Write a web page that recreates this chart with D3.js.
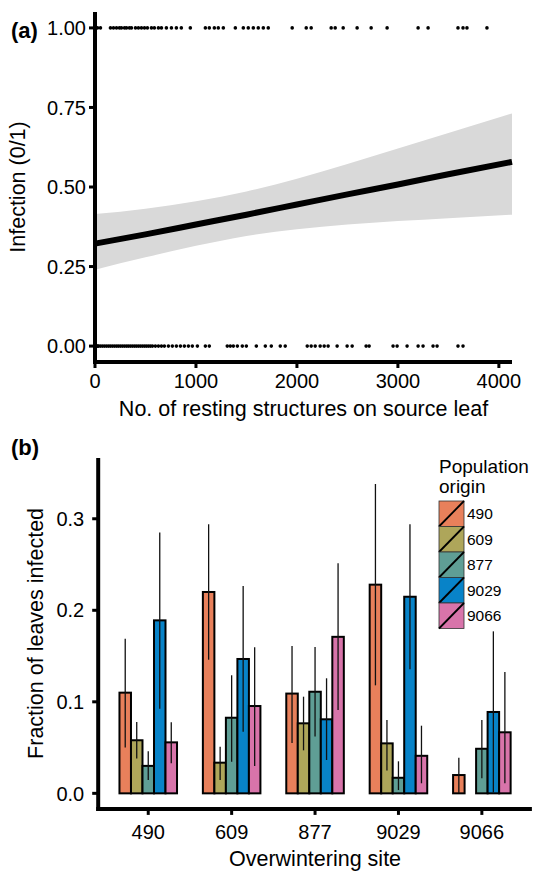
<!DOCTYPE html>
<html><head><meta charset="utf-8">
<script src="https://cdn.jsdelivr.net/npm/d3@7"></script>
<style>
body{margin:0;background:#fff}
svg{display:block}
text{font-family:"Liberation Sans",Arial,Helvetica,sans-serif;fill:#000}
</style>
</head><body>
<svg id="chart" width="535" height="874"></svg>
<script>
// ---------- Panel (a) data ----------
const infectedX = [25,54,153,183,213,242,262,292,312,341,361,401,430,460,490,519,559,588,628,658,707,757,806,855,944,
  1093,1132,1182,1221,1271,1390,1469,1518,1568,1617,1667,1716,1953,2092,2141,2339,2379,2458,2596,2735,2893,3200,3299,3595,3645,3684,3882];
const uninfectedX = [5,15,25,35,54,74,94,114,134,153,173,193,213,232,252,272,292,312,331,351,371,391,410,430,450,470,490,509,529,549,569,598,628,658,687,727,766,806,846,885,925,
  964,1014,1093,1132,1310,1340,1370,1410,1459,1499,1598,1687,1746,1835,1884,2102,2141,2181,2230,2270,2309,2398,2497,2547,2685,2715,2952,2992,3091,3200,3249,3348,3388,3595,3645];
const fitX  = [0,500,1000,1500,2000,2500,3000,3500,4130];
const fitP  = [0.322,0.351,0.382,0.413,0.445,0.477,0.508,0.540,0.579];
const fitLo = [0.240,0.279,0.315,0.346,0.367,0.382,0.393,0.402,0.413];
const fitHi = [0.415,0.432,0.455,0.486,0.526,0.572,0.621,0.670,0.731];
const xTicksA = [0,1000,2000,3000,4000];
const yTicksA = [0,0.25,0.5,0.75,1];

// ---------- Panel (b) data ----------
const sites = ["490","609","877","9029","9066"];
const origins = ["490","609","877","9029","9066"];
const originColors = ["#e8805b","#aea65a","#5f9e95","#0883c8","#d874aa"];
// fraction infected per origin, across sites (490, 609, 877, 9029, 9066)
const frac490  = [0.110,0.220,0.109,0.228,0.020];
const frac609  = [0.058,0.0335,0.0765,0.0546,0];
const frac877  = [0.030,0.0826,0.111,0.017,0.0487];
const frac9029 = [0.189,0.1468,0.0809,0.2148,0.0889];
const frac9066 = [0.0557,0.0954,0.171,0.041,0.0667];
const lo490  = [0.050,0.146,0.055,0.118,0.0005];
const lo609  = [0.038,0.0145,0.047,0.025,0];
const lo877  = [0.0145,0.0345,0.062,0.0036,0.0164];
const lo9029 = [0.0925,0.0673,0.0364,0.1355,0.001];
const lo9066 = [0.0328,0.030,0.091,0.011,0.011];
const hi490  = [0.169,0.294,0.161,0.338,0.039];
const hi609  = [0.078,0.051,0.1056,0.080,0];
const hi877  = [0.046,0.129,0.160,0.035,0.080];
const hi9029 = [0.285,0.2266,0.1257,0.294,0.177];
const hi9066 = [0.0776,0.1596,0.2514,0.0739,0.1326];
const yTicksB = [0,0.1,0.2,0.3];

const fracs = [frac490,frac609,frac877,frac9029,frac9066];
const los = [lo490,lo609,lo877,lo9029,lo9066];
const his = [hi490,hi609,hi877,hi9029,hi9066];

const svg = d3.select("#chart");
const FONT_TICK = 20, FONT_TITLE = 21.5;

// ================= Panel (a) =================
const xA = d3.scaleLinear().domain([0,4130]).range([95,512]);
const yA = d3.scaleLinear().domain([-0.05,1.05]).range([362,12]);
const gA = svg.append("g");

const fitData = fitX.map((x,i)=>({x, p:fitP[i], lo:fitLo[i], hi:fitHi[i]}));
gA.append("path").datum(fitData)
  .attr("fill","#d9d9d9")
  .attr("d", d3.area().x(d=>xA(d.x)).y0(d=>yA(d.lo)).y1(d=>yA(d.hi)).curve(d3.curveMonotoneX));

gA.append("g").selectAll("circle").data(infectedX).join("circle")
  .attr("cx",d=>xA(d)).attr("cy",yA(1)).attr("r",1.8).attr("fill","#000");
gA.append("g").selectAll("circle").data(uninfectedX).join("circle")
  .attr("cx",d=>xA(d)).attr("cy",yA(0)).attr("r",1.8).attr("fill","#000");

gA.append("path").datum(fitData)
  .attr("fill","none").attr("stroke","#000").attr("stroke-width",6)
  .attr("d", d3.line().x(d=>xA(d.x)).y(d=>yA(d.p)).curve(d3.curveMonotoneX));

// axes (a)
const axA = gA.append("g");
axA.append("line").attr("x1",xA(0)).attr("x2",xA(0)).attr("y1",yA.range()[1]).attr("y2",yA.range()[0]+2)
  .attr("stroke","#000").attr("stroke-width",4);
axA.append("line").attr("x1",xA(0)-2).attr("x2",xA.range()[1]).attr("y1",yA.range()[0]).attr("y2",yA.range()[0])
  .attr("stroke","#000").attr("stroke-width",4);
axA.selectAll(".yt").data(yTicksA).join("line")
  .attr("x1",xA(0)-6).attr("x2",xA(0)).attr("y1",d=>yA(d)).attr("y2",d=>yA(d))
  .attr("stroke","#000").attr("stroke-width",3);
axA.selectAll(".ytl").data(yTicksA).join("text")
  .attr("x",xA(0)-9).attr("y",d=>yA(d)).attr("dy","0.36em").attr("text-anchor","end")
  .attr("font-size",FONT_TICK).text(d=>d3.format(".2f")(d));
axA.selectAll(".xt").data(xTicksA).join("line")
  .attr("x1",d=>xA(d)).attr("x2",d=>xA(d)).attr("y1",yA.range()[0]).attr("y2",yA.range()[0]+6)
  .attr("stroke","#000").attr("stroke-width",3);
axA.selectAll(".xtl").data(xTicksA).join("text")
  .attr("x",d=>xA(d)).attr("y",388).attr("text-anchor","middle")
  .attr("font-size",FONT_TICK).text(d=>d);
gA.append("text").attr("x",(xA.range()[0]+xA.range()[1])/2).attr("y",416).attr("text-anchor","middle")
  .attr("font-size",FONT_TITLE).text("No. of resting structures on source leaf");
gA.append("text").attr("transform",`translate(25,${(yA.range()[0]+yA.range()[1])/2}) rotate(-90)`)
  .attr("text-anchor","middle").attr("font-size",FONT_TITLE).text("Infection (0/1)");
gA.append("text").attr("x",11).attr("y",38).attr("font-size",22).attr("font-weight","bold").text("(a)");

// ================= Panel (b) =================
const xB = d3.scaleBand().domain(sites).range([98.2,531.9]).paddingInner(0).paddingOuter(0.1);
const groupW = xB.bandwidth()*0.69;
const xInner = d3.scaleBand().domain(origins).range([-groupW/2, groupW/2]);
const yB = d3.scaleLinear().domain([-0.017,0.3665]).range([808.9,457.9]);
const color = d3.scaleOrdinal().domain(origins).range(originColors);
const gB = svg.append("g");

const barData = [];
origins.forEach((o,oi)=>{
  sites.forEach((s,si)=>{
    barData.push({site:s, origin:o, v:fracs[oi][si], lo:los[oi][si], hi:his[oi][si]});
  });
});
const nz = barData.filter(d=>d.v>0);
gB.append("g").selectAll("rect").data(nz).join("rect")
  .attr("x",d=>xB(d.site)+xB.bandwidth()/2+xInner(d.origin))
  .attr("width",xInner.bandwidth())
  .attr("y",d=>yB(d.v)).attr("height",d=>yB(0)-yB(d.v))
  .attr("fill",d=>color(d.origin)).attr("stroke","#000").attr("stroke-width",2);
gB.append("g").selectAll("line").data(nz).join("line")
  .attr("x1",d=>xB(d.site)+xB.bandwidth()/2+xInner(d.origin)+xInner.bandwidth()/2)
  .attr("x2",d=>xB(d.site)+xB.bandwidth()/2+xInner(d.origin)+xInner.bandwidth()/2)
  .attr("y1",d=>yB(d.lo)).attr("y2",d=>yB(d.hi))
  .attr("stroke","#111").attr("stroke-width",1.3);

// axes (b)
const axB = gB.append("g");
const bx0 = xB.range()[0], by0 = yB.range()[0];
axB.append("line").attr("x1",bx0).attr("x2",bx0).attr("y1",yB.range()[1]).attr("y2",by0+2)
  .attr("stroke","#000").attr("stroke-width",4);
axB.append("line").attr("x1",bx0-2).attr("x2",xB.range()[1]).attr("y1",by0).attr("y2",by0)
  .attr("stroke","#000").attr("stroke-width",4);
axB.selectAll(".yt").data(yTicksB).join("line")
  .attr("x1",bx0-6).attr("x2",bx0).attr("y1",d=>yB(d)).attr("y2",d=>yB(d))
  .attr("stroke","#000").attr("stroke-width",3);
axB.selectAll(".ytl").data(yTicksB).join("text")
  .attr("x",bx0-14).attr("y",d=>yB(d)).attr("dy","0.36em").attr("text-anchor","end")
  .attr("font-size",FONT_TICK).text(d=>d3.format(".1f")(d));
axB.selectAll(".xt").data(sites).join("line")
  .attr("x1",d=>xB(d)+xB.bandwidth()/2).attr("x2",d=>xB(d)+xB.bandwidth()/2).attr("y1",by0).attr("y2",by0+6)
  .attr("stroke","#000").attr("stroke-width",3);
axB.selectAll(".xtl").data(sites).join("text")
  .attr("x",d=>xB(d)+xB.bandwidth()/2).attr("y",839).attr("text-anchor","middle")
  .attr("font-size",FONT_TICK).text(d=>d);
gB.append("text").attr("x",(xB.range()[0]+xB.range()[1])/2).attr("y",866).attr("text-anchor","middle")
  .attr("font-size",FONT_TITLE).text("Overwintering site");
gB.append("text").attr("transform",`translate(43,${(yB.range()[0]+yB.range()[1])/2}) rotate(-90)`)
  .attr("text-anchor","middle").attr("font-size",FONT_TITLE).text("Fraction of leaves infected");
gB.append("text").attr("x",11).attr("y",455).attr("font-size",22).attr("font-weight","bold").text("(b)");

// legend
const lg = gB.append("g").attr("transform","translate(439,0)");
lg.append("text").attr("x",0).attr("y",473).attr("font-size",19).text("Population");
lg.append("text").attr("x",0).attr("y",493).attr("font-size",19).text("origin");
const keyH = 25.5, keyW = 25, key0 = 501;
const keys = lg.selectAll(".key").data(origins).join("g")
  .attr("transform",(d,i)=>`translate(0,${key0+i*keyH})`);
keys.append("rect").attr("width",keyW).attr("height",keyH)
  .attr("fill",d=>color(d)).attr("stroke","#333").attr("stroke-width",0.8);
keys.append("line").attr("x1",0).attr("y1",keyH).attr("x2",keyW).attr("y2",0)
  .attr("stroke","#000").attr("stroke-width",1.8);
keys.append("text").attr("x",keyW+3).attr("y",keyH/2).attr("dy","0.36em")
  .attr("font-size",15.5).text(d=>d);
</script>
</body></html>
